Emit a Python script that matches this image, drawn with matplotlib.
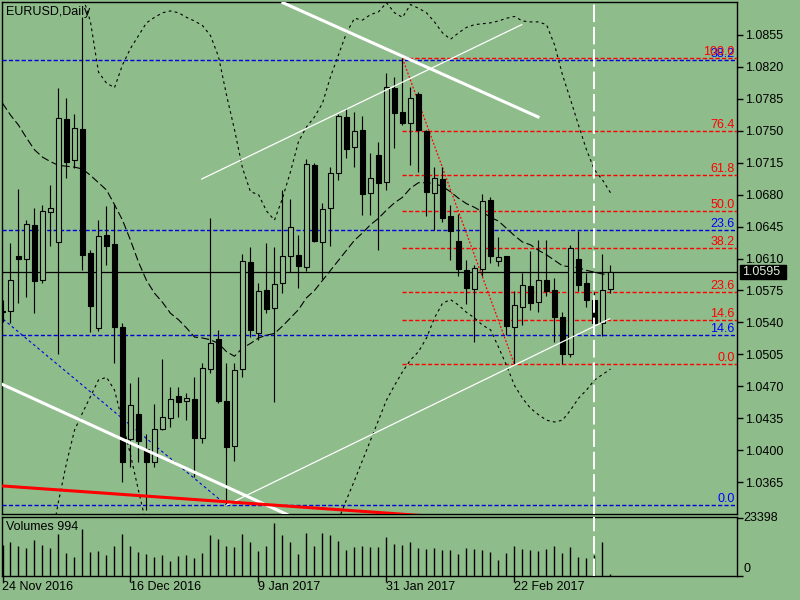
import matplotlib
matplotlib.use('Agg')
import matplotlib.pyplot as plt
from matplotlib.patches import Rectangle
import numpy as np

plt.rcParams['font.family'] = ['Liberation Sans', 'DejaVu Sans']

W, H = 800, 600
BG = '#8fbc8b'
nan = float('nan')

# ---------------- data ----------------
opens = [1.0553, 1.0552, 1.0613, 1.0610, 1.0647, 1.0586, 1.0661, 1.0628, 1.0763, 1.0718,
         1.0752, 1.0616, 1.0534, 1.0636, 1.0626, 1.0535, 1.0412, 1.0440, 1.0402, 1.0387,
         1.0423, 1.0435, 1.0460, 1.0454, 1.0456, 1.0414, 1.0489, 1.0522, 1.0454, 1.0405,
         1.0489, 1.0606, 1.0528, 1.0575, 1.0556, 1.0583, 1.0613, 1.0614, 1.0601, 1.0712,
         1.0628, 1.0665, 1.0704, 1.0765, 1.0732, 1.0751, 1.0682, 1.0723, 1.0694, 1.0797,
         1.0770, 1.0758, 1.0790, 1.0750, 1.0682, 1.0697, 1.0656, 1.0629, 1.0597, 1.0577,
         1.0598, 1.0674, 1.0607, 1.0613, 1.0535, 1.0557, 1.0580, 1.0562, 1.0586, 1.0575,
         1.0546, 1.0505, 1.0609, 1.0583, 1.0565, 1.0539, 1.0577]
highs = [1.0565, 1.0627, 1.0686, 1.0652, 1.0665, 1.0669, 1.0690, 1.0797, 1.0786, 1.0768,
         1.0874, 1.0619, 1.0652, 1.0667, 1.0670, 1.0539, 1.0474, 1.0480, 1.0418, 1.0451,
         1.0500, 1.0469, 1.0469, 1.0463, 1.0480, 1.0496, 1.0654, 1.0532, 1.0496, 1.0496,
         1.0615, 1.0623, 1.0583, 1.0627, 1.0623, 1.0685, 1.0675, 1.0636, 1.0719, 1.0715,
         1.0671, 1.0710, 1.0768, 1.0775, 1.0770, 1.0766, 1.0725, 1.0738, 1.0813, 1.0809,
         1.0829, 1.0798, 1.0792, 1.0751, 1.0710, 1.0710, 1.0669, 1.0659, 1.0608, 1.0603,
         1.0681, 1.0677, 1.0633, 1.0613, 1.0574, 1.0594, 1.0618, 1.0630, 1.0630, 1.0589,
         1.0551, 1.0625, 1.0640, 1.0594, 1.0573, 1.0615, 1.0603]
lows = [1.0540, 1.0539, 1.0561, 1.0568, 1.0550, 1.0583, 1.0624, 1.0505, 1.0698, 1.0709,
        1.0597, 1.0529, 1.0531, 1.0603, 1.0496, 1.0365, 1.0382, 1.0387, 1.0335, 1.0382,
        1.0422, 1.0425, 1.0436, 1.0433, 1.0371, 1.0408, 1.0485, 1.0452, 1.0340, 1.0388,
        1.0480, 1.0524, 1.0521, 1.0550, 1.0453, 1.0572, 1.0595, 1.0578, 1.0596, 1.0628,
        1.0588, 1.0624, 1.0696, 1.0720, 1.0710, 1.0658, 1.0658, 1.0619, 1.0685, 1.0731,
        1.0756, 1.0712, 1.0705, 1.0656, 1.0641, 1.0650, 1.0608, 1.0591, 1.0560, 1.0519,
        1.0591, 1.0605, 1.0602, 1.0526, 1.0494, 1.0537, 1.0554, 1.0551, 1.0569, 1.0519,
        1.0494, 1.0502, 1.0574, 1.0557, 1.0535, 1.0525, 1.0572]
closes = [1.0551, 1.0586, 1.0610, 1.0648, 1.0585, 1.0662, 1.0665, 1.0764, 1.0716, 1.0753,
          1.0614, 1.0558, 1.0635, 1.0624, 1.0535, 1.0387, 1.0450, 1.0410, 1.0387, 1.0423,
          1.0436, 1.0456, 1.0453, 1.0457, 1.0413, 1.0490, 1.0517, 1.0454, 1.0404, 1.0488,
          1.0607, 1.0532, 1.0574, 1.0555, 1.0582, 1.0613, 1.0644, 1.0602, 1.0713, 1.0629,
          1.0664, 1.0704, 1.0766, 1.0730, 1.0750, 1.0681, 1.0698, 1.0693, 1.0798, 1.0769,
          1.0758, 1.0786, 1.0751, 1.0683, 1.0698, 1.0654, 1.0640, 1.0598, 1.0578, 1.0600,
          1.0673, 1.0613, 1.0612, 1.0536, 1.0559, 1.0581, 1.0561, 1.0586, 1.0574, 1.0546,
          1.0505, 1.0621, 1.0581, 1.0565, 1.0539, 1.0575, 1.0595]
volumes = [12500, 13610, 12030, 11240, 14410, 12290, 11240, 16660, 9120, 7540,
           19040, 9520, 10050, 8330, 11900, 16660, 11900, 9520, 8730, 7540,
           8330, 5950, 7930, 8330, 7140, 9120, 16260, 14670, 11900, 11500,
           17050, 13480, 9920, 11900, 21420, 16260, 13480, 8730, 17450, 12030,
           17450, 16260, 14010, 10440, 11630, 11900, 11630, 11500, 15470, 12820,
           12560, 13480, 11240, 10840, 11100, 10310, 10310, 8730, 11100, 10710,
           10310, 9520, 6350, 9120, 11900, 10710, 10310, 9910, 10710, 11900,
           9120, 11500, 7540, 7140, 8330, 13480, 994]

bb_upper = [nan, nan, nan, nan, nan, nan, nan, nan, nan, nan,
            1.0898, 1.0869, 1.0814, 1.0802, 1.0797, 1.0822, 1.0840, 1.0854, 1.0868, 1.0874,
            1.0879, 1.0881, 1.0879, 1.0874, 1.0870, 1.0865, 1.0854, 1.0831, 1.0789, 1.0751,
            1.0709, 1.0683, 1.0680, 1.0662, 1.0652, 1.0676, 1.0705, 1.0738, 1.0754, 1.0765,
            1.0780, 1.0809, 1.0833, 1.0857, 1.0873, 1.0871, 1.0877, 1.0880, 1.0890, 1.0879,
            1.0874, 1.0888, 1.0884, 1.0879, 1.0869, 1.0857, 1.0850, 1.0857, 1.0863, 1.0866,
            1.0867, 1.0868, 1.0870, 1.0873, 1.0875, 1.0870, 1.0869, 1.0869, 1.0866, 1.0844,
            1.0811, 1.0784, 1.0756, 1.0729, 1.0707, 1.0696, 1.0682]
bb_middle = [1.0780, 1.0767, 1.0756, 1.0742, 1.0729, 1.0721, 1.0716, 1.0712, 1.0711, 1.0710,
             1.0708, 1.0701, 1.0693, 1.0685, 1.0669, 1.0652, 1.0630, 1.0606, 1.0586, 1.0572,
             1.0562, 1.0550, 1.0543, 1.0534, 1.0524, 1.0523, 1.0521, 1.0517, 1.0508, 1.0503,
             1.0512, 1.0517, 1.0523, 1.0526, 1.0528, 1.0536, 1.0545, 1.0554, 1.0567, 1.0575,
             1.0586, 1.0597, 1.0608, 1.0619, 1.0630, 1.0638, 1.0647, 1.0654, 1.0663, 1.0671,
             1.0677, 1.0687, 1.0693, 1.0693, 1.0692, 1.0689, 1.0683, 1.0676, 1.0670, 1.0666,
             1.0661, 1.0655, 1.0651, 1.0643, 1.0635, 1.0628, 1.0625, 1.0619, 1.0614, 1.0608,
             1.0602, 1.0601, 1.0600, 1.0597, 1.0595, 1.0593, 1.0592]
bb_lower = [nan, nan, nan, nan, nan, nan, 1.0296, 1.0344, 1.0386, 1.0422,
            1.0441, 1.0459, 1.0477, 1.0480, 1.0466, 1.0431, 1.0395, 1.0356, 1.0318, nan,
            nan, nan, nan, nan, nan, nan, nan, nan, nan, nan,
            nan, nan, nan, nan, nan, nan, nan, nan, nan, nan,
            nan, nan, 1.0324, 1.0346, 1.0367, 1.0389, 1.0411, 1.0433, 1.0455, 1.0471,
            1.0486, 1.0499, 1.0508, 1.0523, 1.0545, 1.0561, 1.0565, 1.0559, 1.0551, 1.0545,
            1.0537, 1.0532, 1.0513, 1.0493, 1.0471, 1.0457, 1.0446, 1.0439, 1.0433, 1.0431,
            1.0433, 1.0444, 1.0457, 1.0466, 1.0477, 1.0483, 1.0489]

date_labels = ['24 Nov 2016', '16 Dec 2016', '9 Jan 2017', '31 Jan 2017', '22 Feb 2017']
date_label_bars = [0, 16, 32, 48, 64]
price_ticks = [1.0855, 1.0820, 1.0785, 1.0750, 1.0715, 1.0680, 1.0645, 1.0610,
               1.0575, 1.0540, 1.0505, 1.0470, 1.0435, 1.0400, 1.0365]
last_price = 1.0595
volume_max = 23398
last_volume_text = 'Volumes 994'
title = 'EURUSD,Daily'

# Fibonacci objects (anchor bar, price)
red_fib_anchor = [(50, 1.0829), (64, 1.0494)]
red_fib_levels = [0.0, 14.6, 23.6, 38.2, 50.0, 61.8, 76.4, 100.0]
blue_fib_anchor = [(-147, 1.1616), (28, 1.0340)]
blue_fib_levels = [0.0, 14.6, 23.6, 38.2]

# Trend lines: ((bar, price), (bar, price))
white_thick_lines = [((35.06, 1.0890), (66.94, 1.0765)),
                     ((0.02, 1.0472), (40.0, 1.0312))]
white_thin_lines = [((24.9, 1.0697), (64.9, 1.0866)),
                    ((28.0, 1.0340), (75.9, 1.0544))]
red_thick_line = ((0.0, 1.0361), (55.0, 1.0327))
vline_bar = 74

# ---------------- layout ----------------
fig = plt.figure(figsize=(W / 100, H / 100), dpi=100, facecolor=BG)

def fx(px):
    return px / W

def fy(py):
    return 1 - py / H

X0, X1 = 2, 737
ax = fig.add_axes([fx(X0), fy(514), (X1 - X0) / W, (514 - 2) / H], facecolor=BG)
axv = fig.add_axes([fx(X0), fy(576), (X1 - X0) / W, (576 - 517) / H], facecolor=BG)

n = len(opens)
xs = np.arange(n)
xlim = (-0.0625, 91.8125)
ax.set_xlim(*xlim)
axv.set_xlim(*xlim)
ax.set_ylim(1.03303, 1.08908)
axv.set_ylim(0, volume_max * 59 / 58.3)

for a in (ax, axv):
    for s in a.spines.values():
        s.set_color('black')
        s.set_linewidth(1.0)

# ---------------- candles ----------------
bw = 0.55
for i in range(n):
    o, h, l, c = opens[i], highs[i], lows[i], closes[i]
    ax.plot([i, i], [l, h], color='black', lw=0.85, zorder=5, solid_capstyle='butt')
    lo, hi = min(o, c), max(o, c)
    if c >= o:
        rect = Rectangle((i - bw / 2, lo), bw, max(hi - lo, 0.00002),
                         facecolor=BG, edgecolor='black', lw=0.8, zorder=6)
    else:
        rect = Rectangle((i - bw / 2, lo), bw, max(hi - lo, 0.00002),
                         facecolor='black', edgecolor='black', lw=0.8, zorder=6)
    ax.add_patch(rect)

# ---------------- indicators ----------------
ax.plot(xs, bb_upper, color='black', lw=0.8, dashes=(2.5, 3), zorder=4)
ax.plot(xs, bb_lower, color='black', lw=0.8, dashes=(2.5, 3), zorder=4)
ax.plot(xs, bb_middle, color='black', lw=0.8, dashes=(7, 3), zorder=4)

# ---------------- fibonacci ----------------
(rb0, rp_hi), (rb1, rp_lo) = red_fib_anchor
for lev in red_fib_levels:
    p = rp_lo + lev / 100 * (rp_hi - rp_lo)
    ax.plot([rb0, xlim[1]], [p, p], color='red', lw=1.0, dashes=(3, 1.6), zorder=3)
(bb0, bp_hi), (bb1, bp_lo) = blue_fib_anchor
for lev in blue_fib_levels:
    p = bp_lo + lev / 100 * (bp_hi - bp_lo)
    ax.plot([xlim[0], xlim[1]], [p, p], color='#0000dd', lw=1.0, dashes=(3, 1.6), zorder=3)
    ax.text(91.55, p, f'{lev:.1f}', color='#0000ff', fontsize=9, ha='right', va='bottom', zorder=8)
for lev in red_fib_levels:
    p = rp_lo + lev / 100 * (rp_hi - rp_lo)
    ax.text(91.55, p, f'{lev:.1f}', color='red', fontsize=9, ha='right', va='bottom', zorder=9)

ax.plot([rb0, rb1], [rp_hi, rp_lo], color='red', lw=0.9, dashes=(1.5, 1.5), zorder=4)
ax.plot([bb0, bb1], [bp_hi, bp_lo], color='#0000dd', lw=0.8, dashes=(2.5, 2.5), zorder=3)

# ---------------- trend lines ----------------
for (a0, a1) in white_thick_lines:
    ax.plot([a0[0], a1[0]], [a0[1], a1[1]], color='white', lw=2.2, zorder=7)
for (a0, a1) in white_thin_lines:
    ax.plot([a0[0], a1[0]], [a0[1], a1[1]], color='white', lw=0.9, zorder=7)
ax.plot([red_thick_line[0][0], red_thick_line[1][0]],
        [red_thick_line[0][1], red_thick_line[1][1]], color='red', lw=2.2, zorder=7)

# current price line
ax.axhline(last_price, color='black', lw=0.9, zorder=4)

# vertical dashed line in both panes
for a in (ax, axv):
    a.axvline(vline_bar, color='white', lw=1.4, dashes=(9, 2.5), zorder=8)

# ---------------- volumes ----------------
axv.vlines(xs, 0, volumes, color='black', lw=1.0, zorder=5)

# ---------------- axes / ticks ----------------
ax.set_xticks([])
ax.yaxis.tick_right()
ax.set_yticks(price_ticks)
ax.set_yticklabels([f'{t:.4f}' for t in price_ticks])
ax.tick_params(axis='y', direction='out', length=4, width=1, pad=1.5,
               labelsize=9, colors='black')

axv.yaxis.tick_right()
axv.set_yticks([0, volume_max])
axv.set_yticklabels([])
axv.tick_params(axis='y', direction='out', length=4, width=1)
axv.set_xticks(date_label_bars)
axv.set_xticklabels([])
axv.tick_params(axis='x', direction='out', length=4, width=1)

fig.text(fx(743), fy(518), f'{volume_max}', fontsize=9, va='center', ha='left')
fig.text(fx(743), fy(569), '0', fontsize=9, va='center', ha='left')

for b, lab in zip(date_label_bars, date_labels):
    xp = 2.5 + 8 * b
    fig.text(fx(xp), fy(587), lab, fontsize=9, va='center', ha='left')

# last price label
fig.patches.append(Rectangle((fx(740), fy(279)), 46 / W, 14 / H, transform=fig.transFigure,
                             facecolor='black', edgecolor='black', zorder=10))
fig.text(fx(742), fy(272), f'{last_price:.4f}', fontsize=9, va='center', ha='left',
         color='#d8ecd4', zorder=11)

fig.text(fx(6), fy(12), title, fontsize=9, va='center', ha='left')
fig.text(fx(6), fy(527), last_volume_text, fontsize=9, va='center', ha='left')

fig.savefig('out.png', dpi=100, facecolor=BG)
